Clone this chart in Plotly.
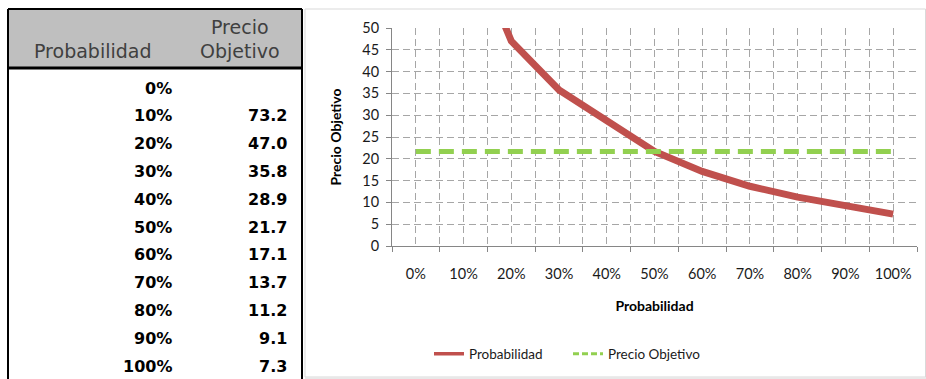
import plotly.graph_objects as go

# ---- data ----
categories = ["0%", "10%", "20%", "30%", "40%", "50%", "60%", "70%", "80%", "90%", "100%"]
precio_objetivo_curve = [None, 73.2, 47.0, 35.8, 28.9, 21.7, 17.1, 13.7, 11.2, 9.1, 7.3]
precio_actual = [21.7, 21.7, 21.7, 21.7, 21.7, 21.7, 21.7, 21.7, 21.7, 21.7, 21.7]
y_ticks = [0, 5, 10, 15, 20, 25, 30, 35, 40, 45, 50]
series_names = ["Probabilidad", "Precio Objetivo"]
series_colors = ["#C0504D", "#92D050"]

W, H = 926, 379
ML, MR, MT, MB = 392, 9, 28, 133
PW, PH = W - ML - MR, H - MT - MB


def PX(px):
    return (px - ML) / PW


def PY(py):
    return (H - MB - py) / PH


xs = list(range(len(categories)))
green_dash = "15px,8px"

fig = go.Figure()
fig.add_trace(go.Scatter(
    x=xs, y=precio_objetivo_curve, mode="lines", name=series_names[0], showlegend=False,
    line=dict(color=series_colors[0], width=7), connectgaps=False, hoverinfo="skip"))
fig.add_trace(go.Scatter(
    x=xs, y=precio_actual, mode="lines", name=series_names[1], showlegend=False,
    line=dict(color=series_colors[1], width=5, dash=green_dash), hoverinfo="skip"))
# legend entries (thinner sample lines, as in the reference)
fig.add_trace(go.Scatter(
    x=[None], y=[None], mode="lines", name=series_names[0],
    line=dict(color=series_colors[0], width=3.5), hoverinfo="skip"))
fig.add_trace(go.Scatter(
    x=[None], y=[None], mode="lines", name=series_names[1],
    line=dict(color=series_colors[1], width=3, dash="6px,3px"), hoverinfo="skip"))

grid_c = "#A6A6A6"
axis_c = "#868686"
tick_font = dict(family="Lato", size=14.5, color="#1a1a1a")
title_font = dict(family="Lato", size=14, color="#000")

fig.update_xaxes(
    range=[-0.5, len(categories) - 0.5],
    tickmode="array", tickvals=xs, ticktext=categories,
    ticks="", ticklabelstandoff=15,
    showgrid=True, gridcolor=grid_c, griddash="7px,4px", gridwidth=1,
    minor=dict(tick0=-0.5, dtick=1, ticks="outside", ticklen=5, tickcolor=axis_c,
               showgrid=True, gridcolor=grid_c, griddash="7px,4px", gridwidth=1),
    showline=True, linecolor=axis_c, linewidth=1,
    zeroline=False, tickfont=tick_font,
    title=dict(text="<b>Probabilidad</b>", font=title_font, standoff=19),
    fixedrange=True,
)
fig.update_yaxes(
    range=[0, 50], tickmode="array", tickvals=y_ticks,
    ticks="outside", ticklen=5, tickcolor=axis_c, ticklabelstandoff=4,
    showgrid=True, gridcolor=grid_c, griddash="7px,4px", gridwidth=1,
    showline=True, linecolor=axis_c, linewidth=1, zeroline=False,
    tickfont=tick_font,
    title=dict(text="<b>Precio Objetivo</b>", font=title_font, standoff=17),
    fixedrange=True,
)

shapes = []
# chart frame
shapes.append(dict(type="rect", xref="paper", yref="paper",
                   x0=PX(305), x1=PX(925.5), y0=PY(9), y1=PY(377),
                   line=dict(color="#D9D9D9", width=1), layer="below"))
shapes.append(dict(type="rect", xref="paper", yref="paper",
                   x0=PX(305), x1=PX(926), y0=PY(377), y1=PY(379),
                   fillcolor="#E8E8E8", line=dict(width=0), layer="below"))
# table header
shapes.append(dict(type="rect", xref="paper", yref="paper",
                   x0=PX(8), x1=PX(302), y0=PY(9), y1=PY(68),
                   fillcolor="#BFBFBF", line=dict(width=0), layer="below"))
for (x0, y0, x1, y1, w) in [(8, 9, 302, 9, 2), (8, 68, 302, 68, 3),
                            (8, 9, 8, 379, 2), (302, 9, 302, 379, 2)]:
    shapes.append(dict(type="line", xref="paper", yref="paper",
                       x0=PX(x0), x1=PX(x1), y0=PY(y0), y1=PY(y1),
                       line=dict(color="#000000", width=w)))

annotations = []
hdr_font = dict(family="DejaVu Sans", size=19, color="#404040")
annotations.append(dict(text="Probabilidad", x=PX(93), y=PY(51), xref="paper", yref="paper",
                        xanchor="center", yanchor="middle", showarrow=False, font=hdr_font))
annotations.append(dict(text="Precio", x=PX(240), y=PY(27), xref="paper", yref="paper",
                        xanchor="center", yanchor="middle", showarrow=False, font=hdr_font))
annotations.append(dict(text="Objetivo", x=PX(240), y=PY(51), xref="paper", yref="paper",
                        xanchor="center", yanchor="middle", showarrow=False, font=hdr_font))

cell_font = dict(family="DejaVu Sans", size=16, color="#000000")
row0, row_step = 88, 27.8
for i, cat in enumerate(categories):
    yy = row0 + i * row_step
    annotations.append(dict(text="<b>%s</b>" % cat, x=PX(174), y=PY(yy), xref="paper", yref="paper",
                            xanchor="right", yanchor="middle", showarrow=False, font=cell_font))
    v = precio_objetivo_curve[i]
    if v is not None:
        annotations.append(dict(text="<b>%.1f</b>" % v, x=PX(289), y=PY(yy), xref="paper", yref="paper",
                                xanchor="right", yanchor="middle", showarrow=False, font=cell_font))

fig.update_layout(
    width=W, height=H,
    margin=dict(l=ML, r=MR, t=MT, b=MB, autoexpand=False),
    paper_bgcolor="#FFFFFF", plot_bgcolor="#FFFFFF",
    showlegend=True,
    legend=dict(orientation="h", x=PX(429), y=PY(354), xanchor="left", yanchor="middle",
                font=dict(family="Lato", size=13.5, color="#1a1a1a"), bgcolor="rgba(0,0,0,0)",
                itemwidth=30, entrywidth=94, entrywidthmode="pixels", tracegroupgap=0),
    shapes=shapes, annotations=annotations,
)

fig.write_html("out.html", config={"displayModeBar": False},
               post_script="document.body.style.margin='0';document.body.style.overflow='hidden';")
